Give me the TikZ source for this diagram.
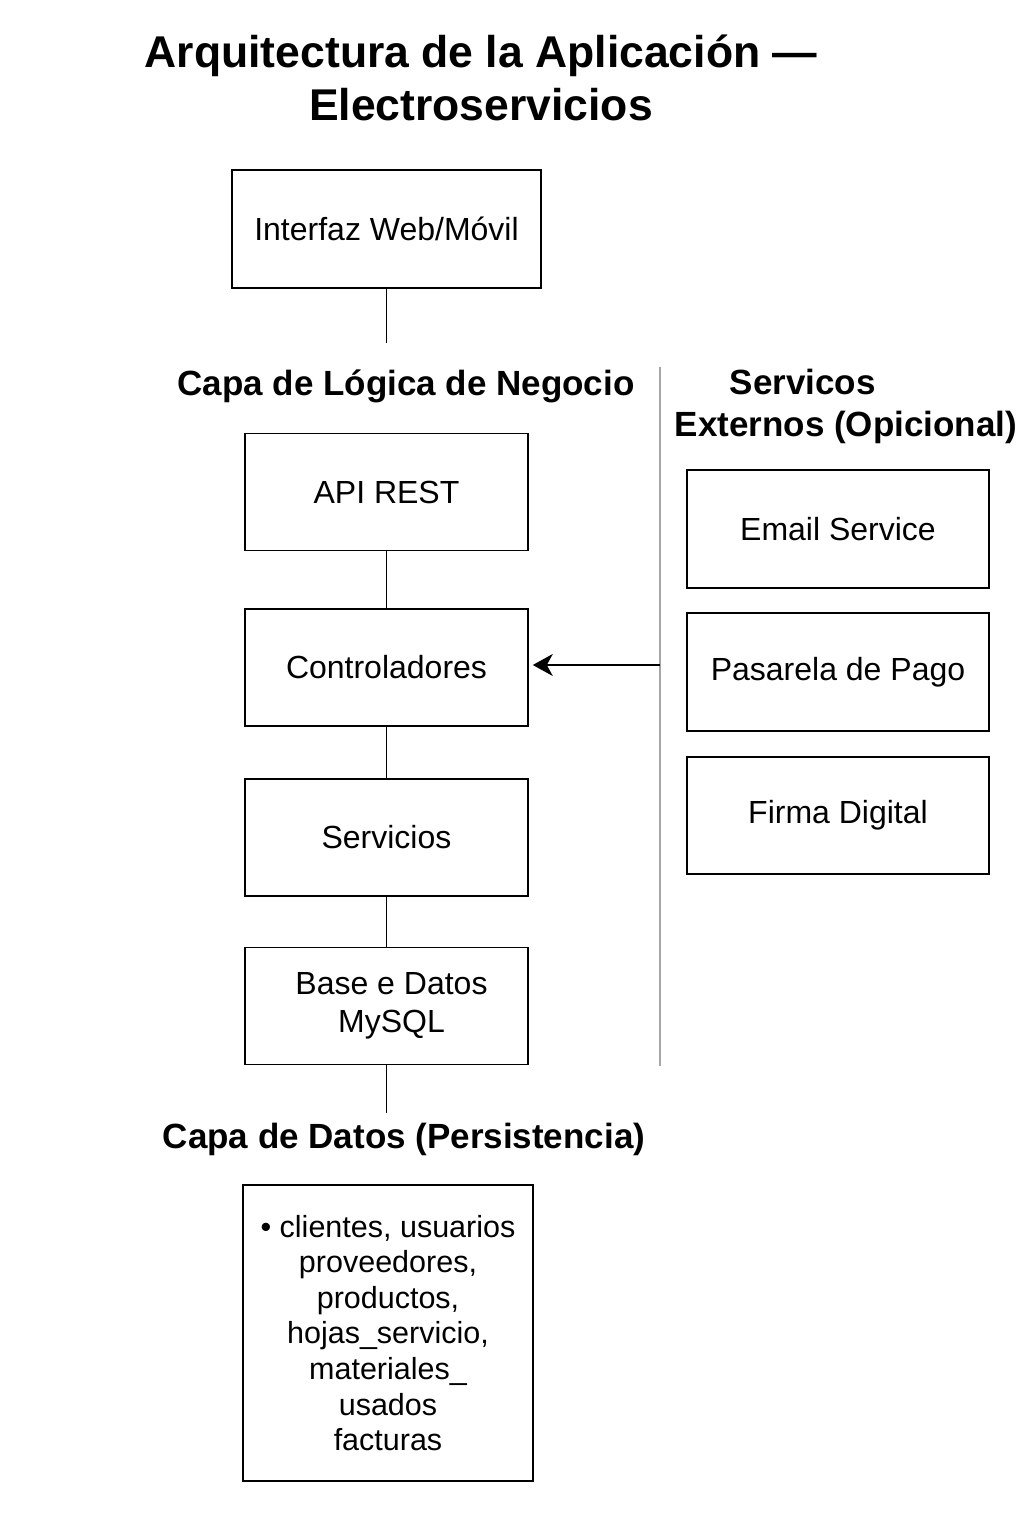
\documentclass[tikz,border=0pt]{standalone}
\usepackage{fontspec}
\setmainfont{Liberation Sans}
\usetikzlibrary{arrows.meta}
\begin{document}
\begin{tikzpicture}[x=1pt,y=-1pt,
  box/.style={draw=black, line width=1.6pt, minimum width=283pt, minimum height=117pt, inner sep=0pt, font=\fontsize{32}{38}\selectfont, align=center},
  extbox/.style={box, minimum width=302pt, minimum height=118pt},
  conn/.style={line width=1.5pt, draw=black},
  head/.style={font=\fontsize{35}{42}\selectfont\bfseries, inner sep=0pt, align=center},
  sep/.style={draw=black!35, line width=1.5pt}
]
\useasboundingbox[fill=white] (0,0) rectangle (1024,1536);

% Title
\node[font=\fontsize{44.5}{53}\selectfont\bfseries, align=center, inner sep=0pt] (title) at (481,78) {Arquitectura de la Aplicación —\\Electroservicios};

% Left column
\node[box, minimum width=309pt, minimum height=118pt] (iface) at (386.5,229) {Interfaz Web/Móvil};
\coordinate (c1) at (386.5,343);
\node[head] (hlog) at (406,386) {Capa de Lógica de Negocio};
\node[box] (api) at (386.5,492) {API REST};
\node[box] (ctrl) at (386.5,667.5) {Controladores};
\node[box] (serv) at (386.5,837.5) {Servicios};
\node[box, font=\fontsize{32}{37.5}\selectfont] (db) at (386.5,1006) {\hspace*{10pt}Base e Datos\\\hspace*{10pt}MySQL};
\coordinate (c2) at (386.5,1113);
\node[head] (hdat) at (404,1139) {Capa de Datos (Persistencia)};
\node[box, minimum width=290pt, minimum height=296pt, font=\fontsize{30.5}{35.6}\selectfont] (tables) at (388,1333)
  {\textbullet{} clientes, usuarios\\proveedores,\\productos,\\hojas\_servicio,\\materiales\_\\usados\\facturas};

\draw[conn] (iface.south) -- (c1);
\draw[conn] (api.south) -- (ctrl.north);
\draw[conn] (ctrl.south) -- (serv.north);
\draw[conn] (serv.south) -- (db.north);
\draw[conn] (db.south) -- (c2);

% Separator
\coordinate (s1) at (660,367);
\coordinate (s2) at (660,1066);
\coordinate (sa) at (660,665);
\draw[sep] (s1) -- (s2);
\draw[conn, -{Stealth[length=20pt,width=22pt,inset=6pt]}, shorten >=4pt] (sa) -- (ctrl.east |- sa);

% Right column
\node[head, align=left] (hext) at (846,406) {\hspace*{55pt}Servicos\\Externos (Opicional)};
\node[extbox] (email) at (838,529) {Email Service};
\node[extbox] (pago) at (838,672) {Pasarela de Pago};
\node[extbox, minimum height=117pt] (firma) at (838,815.5) {Firma Digital};
\end{tikzpicture}
\end{document}
